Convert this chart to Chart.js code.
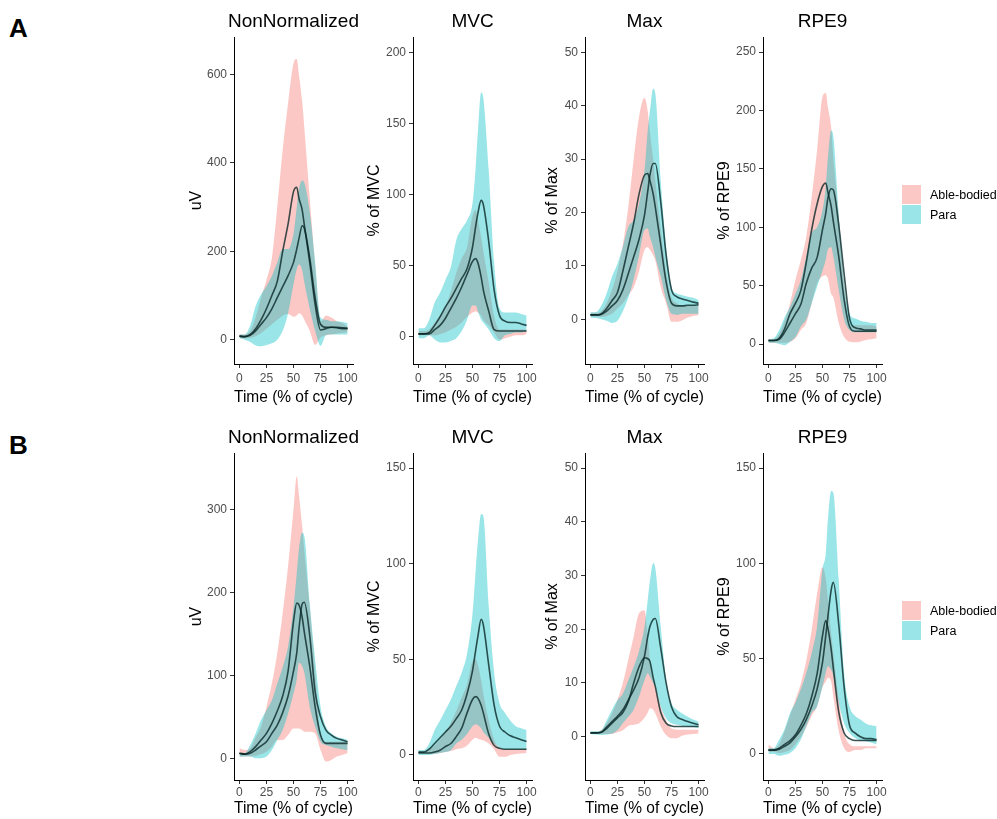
<!DOCTYPE html>
<html>
<head>
<meta charset="utf-8">
<script src="https://cdn.jsdelivr.net/npm/chart.js@4.4.1/dist/chart.umd.min.js"></script>
<style>
  body { margin: 0; background: #fff; width: 997px; height: 819px; position: relative; overflow: hidden;
         font-family: "Liberation Sans", Arial, sans-serif; }
  canvas { position: absolute; }
  .tag { position: absolute; font-size: 26px; font-weight: bold; color: #000; line-height: 30px; }
  .ptitle { position: absolute; font-size: 19px; color: #000; text-align: center; line-height: 22px; }
  .key { position: absolute; width: 19px; height: 19px; }
  .keytxt { position: absolute; font-size: 12.5px; color: #000; line-height: 16px; }
</style>
</head>
<body>
<div class="tag" style="left:9px;top:13px">A</div>
<div class="tag" style="left:9px;top:430px">B</div>

<script>
// ===== Shared axis data =====

var timePct = [0, 5, 10, 15, 20, 25, 30, 35, 40, 45, 50, 53, 55, 58, 60, 65, 70, 75, 80, 85, 90, 95, 100];
var xTicks = [0, 25, 50, 75, 100];
var groups = ['Able-bodied', 'Para'];

// ===== A: NonNormalized =====
var a1AbleLo   = [4, 3, 4, 8, 15, 25, 35, 45, 55, 58, 52, 55, 60, 55, 45, 20, -12, 5, 10, 12, 14, 16, 17];
var a1AbleHi   = [12, 12, 20, 50, 95, 135, 185, 300, 430, 535, 625, 635, 600, 540, 480, 320, 170, 40, 55, 50, 42, 38, 30];
var a1ParaLo   = [3, 0, -5, -13, -15, -12, -8, 0, 20, 60, 125, 160, 170, 158, 130, 70, 20, -14, 10, 12, 12, 12, 12];
var a1ParaHi   = [12, 12, 32, 76, 102, 121, 144, 175, 205, 205, 240, 300, 340, 360, 355, 290, 175, 50, 45, 42, 42, 40, 38];
var a1AbleMean = [8, 7, 12, 25, 45, 70, 100, 132, 200, 262, 335, 345, 320, 294, 260, 175, 80, 22, 25, 28, 27, 25, 25];
var a1ParaMean = [8, 7, 10, 20, 35, 50, 70, 95, 120, 145, 175, 205, 228, 258, 252, 185, 95, 35, 28, 28, 28, 27, 26];
var a1TicksY = [0, 200, 400, 600];

// ===== A: MVC =====
var a2AbleLo   = [1, 1, 1, 1, 2, 3, 5, 7, 10, 14, 17, 18, 17, 15, 12, 8, 3, -2, -1, 0, 1, 1, 2];
var a2AbleHi   = [4, 4, 5, 10, 15, 21, 32, 45, 55, 63, 85, 89, 82, 70, 60, 38, 14, 5, 5, 5, 5, 5, 5];
var a2ParaLo   = [-1, -1, 1, -2, -4, -4, -3, -1, 4, 12, 22, 22, 18, 12, 10, 5, -1, -3, 1, 2, 3, 3, 4];
var a2ParaHi   = [6, 6, 12, 24, 31, 40, 49, 68, 76, 82, 94, 120, 145, 172, 168, 117, 52, 20, 17, 17, 17, 16, 15];
var a2AbleMean = [2, 2, 2, 5, 8, 13, 20, 27, 35, 44, 53, 55, 52, 42, 33, 18, 5, 4, 4, 4, 4, 4, 4];
var a2ParaMean = [2, 2, 3, 8, 14, 21, 27, 34, 41, 48, 63, 78, 87, 96, 93, 67, 33, 15, 11, 10, 10, 9, 8];
var a2TicksY = [0, 50, 100, 150, 200];

// ===== A: Max =====
var a3AbleLo   = [0.5, 0.5, 0.4, 0.6, 1, 2, 3, 4.5, 6, 9, 13, 13.5, 13, 12, 11, 6, 3, -0.5, -0.5, -0.2, 0.3, 0.6, 0.8];
var a3AbleHi   = [1.2, 1.2, 1.5, 3, 5.5, 9, 14, 21, 30, 38, 41.5, 39, 35, 30, 26, 17, 9, 4, 3, 2.5, 2.5, 2.5, 2.5];
var a3ParaLo   = [0.3, 0.2, 0, -0.3, -0.7, -0.3, 1.5, 4, 7.5, 12, 16.7, 17, 15.4, 13.5, 11.7, 8, 3.6, 1, 0.8, 1, 1, 1, 1];
var a3ParaHi   = [1.3, 1.3, 2.5, 4.8, 8, 10.4, 13.6, 17.3, 18.6, 21.7, 28, 35.4, 39, 43.2, 42.3, 26, 13.5, 6, 4.8, 4.5, 4.2, 4, 3.6];
var a3AbleMean = [0.8, 0.8, 1, 2, 3.5, 5, 9, 13.5, 18, 23.5, 27, 27.3, 26, 23.5, 21, 14, 7, 3, 2.5, 2.5, 2.6, 2.6, 2.7];
var a3ParaMean = [0.8, 0.8, 0.9, 1.5, 2.5, 3.5, 5.5, 8.5, 11.7, 15, 19.5, 24, 27, 29.2, 29.2, 22, 12, 5.5, 4.2, 3.8, 3.5, 3.2, 3];
var a3TicksY = [0, 10, 20, 30, 40, 50];

// ===== A: RPE9 =====
var a4AbleLo   = [1, 1, 1, 1, 2, 5, 12, 18, 35, 52, 58, 59, 56, 43, 40, 18, 6, 2, 1.5, 2, 3.4, 4, 5];
var a4AbleHi   = [4, 4, 9, 20, 35, 55, 72, 92, 126, 166, 212, 215, 203, 186, 160, 109, 52, 15, 16, 16, 16, 16, 15];
var a4ParaLo   = [1, 1, 0, -1, 2, 6, 15, 21, 35, 49, 63, 72, 81, 83, 75, 46, 21, 12, 10, 10, 10, 10, 10];
var a4ParaHi   = [4, 5, 12, 23, 32, 43, 55, 75, 95, 100, 115, 135, 160, 183, 178, 112, 52, 26, 22, 20, 19, 18, 18];
var a4AbleMean = [3, 3, 5, 13, 26, 35, 46, 70, 98, 120, 135, 138, 130, 118, 105, 75, 38, 15, 11, 11, 11, 11, 11];
var a4ParaMean = [3, 3, 4, 10, 18, 26, 34, 52, 65, 74, 98, 112, 125, 133, 132, 102, 60, 22, 14, 13, 12, 12, 12];
var a4TicksY = [0, 50, 100, 150, 200, 250];

// ===== B: NonNormalized =====
var b1AbleLo   = [2, 2, 2, 3, 5, 8, 14, 22, 22, 28, 36, 36, 36, 34, 32, 32, 30, 10, -4, -2, 2, 4, 6];
var b1AbleHi   = [12, 10, 12, 25, 38, 62, 90, 127, 175, 232, 300, 340, 318, 280, 250, 183, 107, 30, 20, 20, 20, 20, 20];
var b1ParaLo   = [2, 2, 2, 0, 0, 2, 10, 22, 34, 54, 78, 95, 115, 111, 103, 62, 38, 20, 16, 14, 12, 11, 10];
var b1ParaHi   = [6, 6, 16, 30, 46, 58, 70, 90, 110, 135, 183, 223, 252, 272, 268, 187, 119, 62, 38, 30, 26, 24, 22];
var b1AbleMean = [6, 5, 8, 14, 22, 30, 42, 57, 75, 105, 165, 187, 185, 170, 152, 111, 62, 28, 18, 18, 18, 18, 18];
var b1ParaMean = [6, 5, 6, 10, 15, 20, 30, 40, 55, 75, 105, 127, 155, 186, 188, 148, 80, 50, 34, 28, 24, 22, 20];
var b1TicksY = [0, 100, 200, 300];

// ===== B: MVC =====
var b2AbleLo   = [1, 1, 0.5, 0.5, 1, 1.5, 2, 3, 3.5, 5, 8, 9, 8.5, 8, 7.5, 6, 3, -1, -1, 0, 0.5, 0.7, 1];
var b2AbleHi   = [2, 2, 3, 5, 8, 12, 17, 23, 30, 37, 49, 50, 47, 39, 32, 18, 8, 3.5, 3, 3, 3, 3, 3];
var b2ParaLo   = [0, 0, 0, 0.5, 1, 1.5, 2.5, 6, 8, 11, 15, 16, 15.5, 14, 12, 9, 6, 4, 3, 3, 3, 3, 3];
var b2ParaHi   = [2.6, 2.6, 6, 13, 18, 23.5, 29, 36, 43, 53, 74, 97, 112, 126, 125, 78, 43, 27, 22, 18, 15, 14, 13];
var b2AbleMean = [1, 1, 1, 1.5, 2.5, 4.4, 6, 9.6, 14, 22, 29, 30.5, 29.7, 26, 22, 11, 5, 3.5, 3, 3, 3, 3, 3];
var b2ParaMean = [1.5, 1.5, 3, 6, 9, 12, 15, 19, 23.5, 32, 44, 55, 62, 71, 68, 47, 26, 15, 12, 10, 9, 8, 7];
var b2TicksY = [0, 50, 100, 150];

// ===== B: Max =====
var b3AbleLo   = [0.6, 0.6, 0.5, 0.5, 0.5, 0.8, 1.2, 2, 2.2, 2.5, 3.5, 4.5, 5.3, 5, 4.3, 1.9, 0.3, -0.3, -0.3, 0.2, 0.4, 0.5, 0.6];
var b3AbleHi   = [0.9, 0.9, 1.2, 2.5, 4.3, 6.8, 10, 14.3, 18.6, 23, 23.5, 19, 14.3, 10.5, 9.3, 5.6, 3, 1.5, 1.3, 1.3, 1.3, 1.3, 1.3];
var b3ParaLo   = [0.5, 0.4, 0.3, 0.4, 0.6, 1.2, 2.5, 3.7, 5, 7.5, 10.5, 11.8, 11.2, 10, 9.3, 5.6, 3.4, 2.5, 2.2, 2, 1.9, 1.8, 1.6];
var b3ParaHi   = [1, 1, 1.2, 3, 5, 6.8, 8, 10.5, 13, 16, 20.5, 25.5, 29, 32.3, 31.4, 20.5, 10.5, 6.2, 5, 4.3, 3.7, 3.2, 2.8];
var b3AbleMean = [0.7, 0.7, 0.8, 1.5, 2.5, 3.5, 4.5, 6.5, 10, 13, 14.7, 14.5, 14, 11, 9.3, 4.5, 2.5, 2, 1.9, 1.9, 1.9, 1.9, 1.9];
var b3ParaMean = [0.7, 0.7, 0.8, 1.8, 2.8, 3.8, 5, 6.8, 8.7, 11, 15, 18.6, 20.5, 21.8, 22, 16.5, 10, 5.5, 3.7, 3.2, 2.8, 2.5, 2.2];
var b3TicksY = [0, 10, 20, 30, 40, 50];

// ===== B: RPE9 =====
var b4AbleLo   = [1, 1, 0.5, 1, 2, 5, 9, 14, 20, 25, 35, 38, 40, 38, 30, 12, 3, 1, 2, 2, 3, 3, 3];
var b4AbleHi   = [5, 3, 5, 12, 20, 28.5, 37, 49, 65, 84, 98, 92, 81, 63, 53, 28.5, 11, 5, 4, 4, 4, 4, 4];
var b4ParaLo   = [0, 0, -1, -0.5, 0.5, 3, 7.5, 14.5, 21.5, 25, 35.5, 42.5, 46, 44, 41, 27, 16, 11, 8.4, 7, 6.6, 6, 5];
var b4ParaHi   = [3, 3, 7.5, 13, 21.5, 27, 34, 42.5, 53, 67, 97, 105, 123, 138, 137, 91, 42.5, 25, 20, 18, 16, 15, 14.5];
var b4AbleMean = [2, 2, 3, 5, 7, 10, 15, 21, 30, 42, 62, 70, 66, 55, 45, 22, 11, 8, 7, 7, 7, 7, 7];
var b4ParaMean = [2, 2, 2.5, 4, 5.8, 9, 12.8, 18, 25, 34, 48, 62, 72, 86, 90, 68, 35, 15, 11, 9, 8, 8, 7.5];
var b4TicksY = [0, 50, 100, 150];

// ===== Panel list =====

var panels = [
    { title: 'NonNormalized', yTitle: 'uV',        yMin: -55,  yMax: 685,  yTicks: a1TicksY, able: [a1AbleLo, a1AbleHi, a1AbleMean], para: [a1ParaLo, a1ParaHi, a1ParaMean] },
    { title: 'MVC',           yTitle: '% of MVC',  yMin: -19.2, yMax: 211, yTicks: a2TicksY, able: [a2AbleLo, a2AbleHi, a2AbleMean], para: [a2ParaLo, a2ParaHi, a2ParaMean] },
    { title: 'Max',           yTitle: '% of Max',  yMin: -8.4, yMax: 52.9, yTicks: a3TicksY, able: [a3AbleLo, a3AbleHi, a3AbleMean], para: [a3ParaLo, a3ParaHi, a3ParaMean] },
    { title: 'RPE9',          yTitle: '% of RPE9', yMin: -17.1, yMax: 263, yTicks: a4TicksY, able: [a4AbleLo, a4AbleHi, a4AbleMean], para: [a4ParaLo, a4ParaHi, a4ParaMean] },
    { title: 'NonNormalized', yTitle: 'uV',        yMin: -26.2, yMax: 368, yTicks: b1TicksY, able: [b1AbleLo, b1AbleHi, b1AbleMean], para: [b1ParaLo, b1ParaHi, b1ParaMean] },
    { title: 'MVC',           yTitle: '% of MVC',  yMin: -13.1, yMax: 157.9, yTicks: b2TicksY, able: [b2AbleLo, b2AbleHi, b2AbleMean], para: [b2ParaLo, b2ParaHi, b2ParaMean] },
    { title: 'Max',           yTitle: '% of Max',  yMin: -8.07, yMax: 52.8, yTicks: b3TicksY, able: [b3AbleLo, b3AbleHi, b3AbleMean], para: [b3ParaLo, b3ParaHi, b3ParaMean] },
    { title: 'RPE9',          yTitle: '% of RPE9', yMin: -13.7, yMax: 157.9, yTicks: b4TicksY, able: [b4AbleLo, b4AbleHi, b4AbleMean], para: [b4ParaLo, b4ParaHi, b4ParaMean] }
];

// ===== Layout (pixels) =====

var colCanvasLeft = [187, 365, 543, 715];
var colChartLeft  = [234, 413, 585, 763];
var colChartRight = [353, 532, 704, 882];
var rowChartTop   = [37, 453];
var rowCanvasBottom = [407, 818];
var rowChartBottom  = [364, 780];
var rowTickPad    = [3, 1];
var rowTitleTop   = [10, 426];
var rowKeyTop     = [185, 601];

var ableFill = 'rgba(248, 118, 109, 0.4)';
var paraFill = 'rgba(0, 191, 196, 0.4)';
var meanLine = 'rgba(10, 40, 40, 0.8)';
var clear = 'rgba(0, 0, 0, 0)';

Chart.defaults.font.family = '"Liberation Sans", Arial, sans-serif';

function pts(ys) {
    return timePct.map(function(x, i) { return { x: x, y: ys[i] }; });
}

function band(ys, fillColor, fillTarget) {
    return {
        data: pts(ys),
        borderColor: clear,
        borderWidth: 0,
        backgroundColor: fillColor,
        fill: fillTarget,
        pointRadius: 0,
        cubicInterpolationMode: 'monotone'
    };
}

function mean(ys) {
    return {
        data: pts(ys),
        borderColor: meanLine,
        borderWidth: 1.6,
        fill: false,
        pointRadius: 0,
        cubicInterpolationMode: 'monotone'
    };
}

function toTicks(list) {
    return function(scale) {
        scale.ticks = list.map(function(v) { return { value: v }; });
    };
}

panels.forEach(function(p, i) {
    var col = i % 4;
    var row = Math.floor(i / 4);
    var top = rowChartTop[row] - 12;
    var left = colCanvasLeft[col];
    var w = colChartRight[col] + 12 - left;
    var h = rowCanvasBottom[row] - top;
    var yWidth = colChartLeft[col] - left;
    var xHeight = rowCanvasBottom[row] - rowChartBottom[row];

    var cv = document.createElement('canvas');
    cv.width = w;
    cv.height = h;
    cv.style.left = left + 'px';
    cv.style.top = top + 'px';
    cv.style.width = w + 'px';
    cv.style.height = h + 'px';
    document.body.appendChild(cv);

    var t = document.createElement('div');
    t.className = 'ptitle';
    t.textContent = p.title;
    t.style.left = (colChartLeft[col] - 40) + 'px';
    t.style.width = (colChartRight[col] - colChartLeft[col] + 80) + 'px';
    t.style.top = rowTitleTop[row] + 'px';
    document.body.appendChild(t);

    // index 0 is drawn last (on top)
    new Chart(cv, {
        type: 'line',
        data: {
            datasets: [
                mean(p.para[2]),
                mean(p.able[2]),
                band(p.para[1], paraFill, '+1'),
                band(p.para[0], clear, false),
                band(p.able[1], ableFill, '+1'),
                band(p.able[0], clear, false)
            ]
        },
        options: {
            responsive: false,
            animation: false,
            events: [],
            layout: { padding: { top: 12, right: 12, left: 0, bottom: 0 } },
            plugins: { legend: { display: false }, tooltip: { enabled: false } },
            scales: {
                x: {
                    type: 'linear',
                    min: -5,
                    max: 105,
                    afterBuildTicks: toTicks(xTicks),
                    afterFit: function(s) { s.height = xHeight; },
                    ticks: { color: '#4d4d4d', font: { size: 12 }, padding: rowTickPad[row], autoSkip: false, maxRotation: 0 },
                    grid: { drawOnChartArea: false, drawTicks: true, tickLength: 4, color: '#333' },
                    border: { display: true, color: '#000', width: 1 },
                    title: { display: true, text: 'Time (% of cycle)', color: '#000', font: { size: 16 }, padding: 0 }
                },
                y: {
                    type: 'linear',
                    min: p.yMin,
                    max: p.yMax,
                    afterBuildTicks: toTicks(p.yTicks),
                    afterFit: function(s) { s.width = yWidth; },
                    ticks: { color: '#4d4d4d', font: { size: 12 }, padding: 3, autoSkip: false },
                    grid: { drawOnChartArea: false, drawTicks: true, tickLength: 4, color: '#333' },
                    border: { display: true, color: '#000', width: 1 },
                    title: { display: true, text: p.yTitle, color: '#000', font: { size: 16 }, padding: 0 }
                }
            }
        }
    });
});

// ===== Legends =====

var keyColors = [ableFill, paraFill];
rowKeyTop.forEach(function(y0) {
    groups.forEach(function(g, k) {
        var sq = document.createElement('div');
        sq.className = 'key';
        sq.style.left = '902px';
        sq.style.top = (y0 + k * 20) + 'px';
        sq.style.background = keyColors[k];
        document.body.appendChild(sq);

        var tx = document.createElement('div');
        tx.className = 'keytxt';
        tx.textContent = g;
        tx.style.left = '930px';
        tx.style.top = (y0 + k * 20 + 2) + 'px';
        document.body.appendChild(tx);
    });
});
</script>
</body>
</html>
